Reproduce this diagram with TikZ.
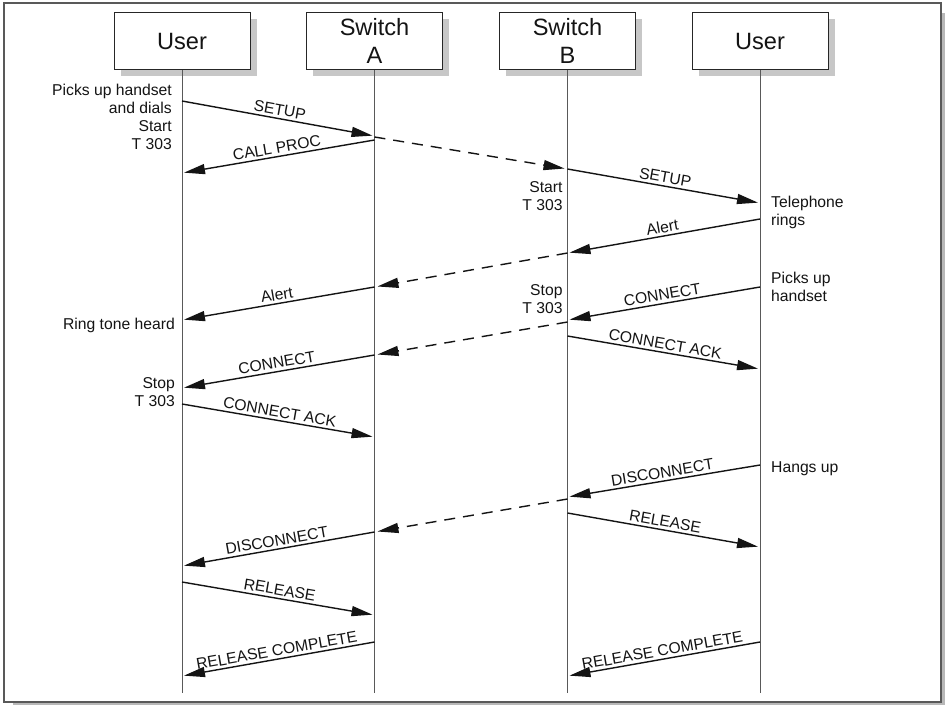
\documentclass[tikz,border=0pt]{standalone}
\usepackage{fontspec}
\setmainfont{Liberation Sans}
\usetikzlibrary{arrows.meta,shadows}
\begin{document}
\begin{tikzpicture}[x=1pt,y=-1pt,
  font=\fontsize{15.7}{18}\selectfont,
  actor/.style={draw=black!85, fill=white, line width=1pt,
    minimum width=136pt, minimum height=57pt, inner sep=0pt, align=center,
    text=black!92, font=\fontsize{23.6}{28}\selectfont,
    drop shadow={shadow xshift=6.5pt, shadow yshift=-6.5pt, opacity=1, fill=black!22}},
  lifeline/.style={draw=black!65, line width=1pt},
  msg/.style={draw=black!92, line width=1.4pt,
    -{Triangle[length=21pt,width=10pt]}, shorten >=2pt},
  relay/.style={msg, dash pattern=on 11pt off 8pt, shorten >=3pt},
  lbl/.style={sloped, above, inner sep=2.5pt, text=black!92},
  noteL/.style={inner sep=0pt, text=black!92, align=right, anchor=north east},
  noteR/.style={inner sep=0pt, text=black!92, align=left, anchor=north west},
]
\useasboundingbox (0,0) rectangle (947,706);

% outer frame with its shadow
\fill[black!28] (13,13) rectangle (945,705);
\draw[draw=black!65, line width=1.4pt, fill=white] (4,3) rectangle (941,702);

% participants
\node[actor] (u1) at (182,41)   {User};
\node[actor] (sa) at (374.5,41) {Switch\\A};
\node[actor] (sb) at (567.5,41) {Switch\\B};
\node[actor] (u2) at (760,41)   {User};

% lifelines
\coordinate (u1end) at (u1 |- 0,693);
\coordinate (saend) at (sa |- 0,693);
\coordinate (sbend) at (sb |- 0,693);
\coordinate (u2end) at (u2 |- 0,693);
\draw[lifeline] (u1.south) -- (u1end);
\draw[lifeline] (sa.south) -- (saend);
\draw[lifeline] (sb.south) -- (sbend);
\draw[lifeline] (u2.south) -- (u2end);

% message end points on the lifelines
\coordinate (m1s)  at (u1 |- 0,101); \coordinate (m1e)  at (sa |- 0,136);
\coordinate (m2s)  at (sa |- 0,140); \coordinate (m2e)  at (u1 |- 0,173);
\coordinate (d1s)  at (sa |- 0,137); \coordinate (d1e)  at (sb |- 0,169);
\coordinate (m3s)  at (sb |- 0,169); \coordinate (m3e)  at (u2 |- 0,203);
\coordinate (m4s)  at (u2 |- 0,219); \coordinate (m4e)  at (sb |- 0,253);
\coordinate (d2s)  at (sb |- 0,253); \coordinate (d2e)  at (sa |- 0,287);
\coordinate (m5s)  at (sa |- 0,287); \coordinate (m5e)  at (u1 |- 0,320);
\coordinate (m6s)  at (u2 |- 0,287); \coordinate (m6e)  at (sb |- 0,320);
\coordinate (d3s)  at (sb |- 0,322); \coordinate (d3e)  at (sa |- 0,355);
\coordinate (m7s)  at (sa |- 0,355); \coordinate (m7e)  at (u1 |- 0,388);
\coordinate (m8s)  at (sb |- 0,336); \coordinate (m8e)  at (u2 |- 0,369);
\coordinate (m9s)  at (u1 |- 0,404); \coordinate (m9e)  at (sa |- 0,437);
\coordinate (m10s) at (u2 |- 0,465); \coordinate (m10e) at (sb |- 0,497);
\coordinate (d4s)  at (sb |- 0,499); \coordinate (d4e)  at (sa |- 0,532);
\coordinate (m11s) at (sa |- 0,532); \coordinate (m11e) at (u1 |- 0,566);
\coordinate (m12s) at (u1 |- 0,582); \coordinate (m12e) at (sa |- 0,615);
\coordinate (m13s) at (sb |- 0,513); \coordinate (m13e) at (u2 |- 0,547);
\coordinate (m14s) at (sa |- 0,642); \coordinate (m14e) at (u1 |- 0,676);
\coordinate (m15s) at (u2 |- 0,642); \coordinate (m15e) at (sb |- 0,676);

% call set-up
\draw[msg]   (m1s) -- node[lbl] {SETUP} (m1e);
\draw[msg]   (m2s) -- node[lbl] {CALL PROC} (m2e);
\draw[relay] (d1s) -- (d1e);
\draw[msg]   (m3s) -- node[lbl] {SETUP} (m3e);
\draw[msg]   (m4s) -- node[lbl] {Alert} (m4e);
\draw[relay] (d2s) -- (d2e);
\draw[msg]   (m5s) -- node[lbl] {Alert} (m5e);
\draw[msg]   (m6s) -- node[lbl] {CONNECT} (m6e);
\draw[relay] (d3s) -- (d3e);
\draw[msg]   (m7s) -- node[lbl] {CONNECT} (m7e);
\draw[msg]   (m8s) -- node[lbl] {CONNECT ACK} (m8e);
\draw[msg]   (m9s) -- node[lbl] {CONNECT ACK} (m9e);

% call clearing
\draw[msg]   (m10s) -- node[lbl] {DISCONNECT} (m10e);
\draw[relay] (d4s) -- (d4e);
\draw[msg]   (m11s) -- node[lbl] {DISCONNECT} (m11e);
\draw[msg]   (m12s) -- node[lbl] {RELEASE} (m12e);
\draw[msg]   (m13s) -- node[lbl] {RELEASE} (m13e);
\draw[msg]   (m14s) -- node[lbl] {RELEASE COMPLETE} (m14e);
\draw[msg]   (m15s) -- node[lbl] {RELEASE COMPLETE} (m15e);

% annotations beside the lifelines
\node[noteL] (n1) at (172,83.7)    {Picks up handset\\and dials\\Start\\T 303};
\node[noteL] (n2) at (562.7,181.4) {Start\\T 303};
\node[noteR] (n3) at (771,196)     {Telephone\\rings};
\node[noteL] (n4) at (175,318)     {Ring tone heard};
\node[noteR] (n5) at (771,272)     {Picks up\\handset};
\node[noteL] (n6) at (562.7,284.7) {Stop\\T 303};
\node[noteL] (n7) at (175,377)     {Stop\\T 303};
\node[noteR] (n8) at (771,461.4)   {Hangs up};
\end{tikzpicture}
\end{document}
